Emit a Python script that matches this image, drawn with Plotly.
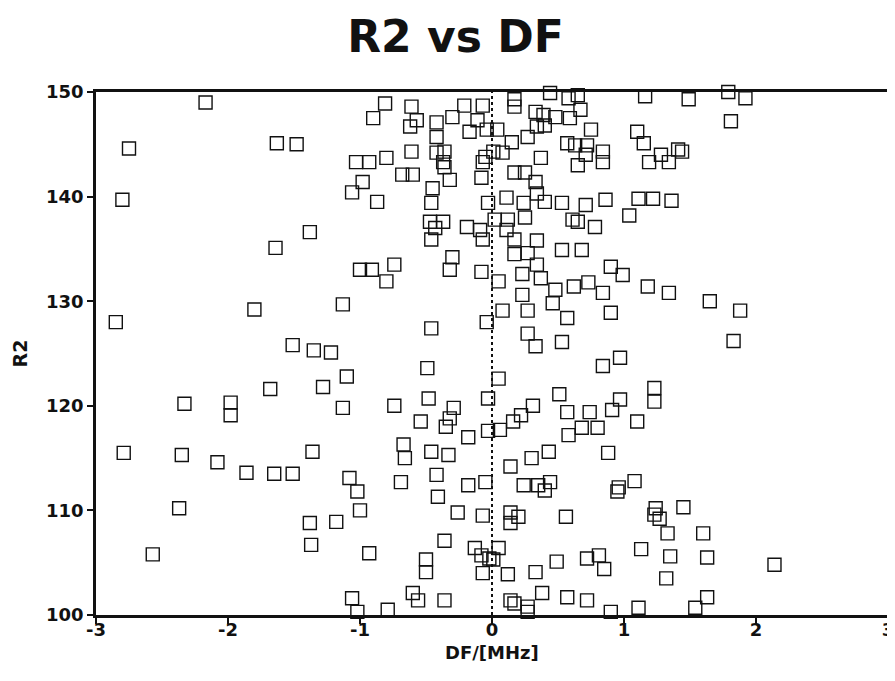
import plotly.graph_objects as go

# DF / [MHz] values
df_mhz = [
    -2.17, -2.75, -2.80, -1.63, -1.48, -1.03, -1.06, -0.98,
    -0.81, -0.90, -0.61, -0.57, -0.62, -0.42, -0.30, -0.21, -0.07, -0.11, -0.17, -0.04, 0.04, -0.42,
    0.17, 0.17, 0.44, 0.58, 0.65, 0.33, 0.39, 0.48, 0.59, 0.67, 0.34, 0.40, 0.27, 0.15, 0.75,
    0.57, 0.63, 0.72, 0.84, 0.71, 0.84, 0.65, 0.37, 0.08, 0.01, -0.05, -0.07, -0.61, -0.42, -0.36,
    -0.37, -0.36, -0.80, -0.93, -0.68, -0.60, -0.32, -0.45, -0.46, -0.87, -0.08, 0.17, 0.25, 0.33,
    0.34, 0.11, 0.24, 0.40, 0.53, 0.71, 0.86, -0.03,
    -0.47, -0.37, -0.43, -0.19, -0.09, 0.02, 0.12, 0.25, 0.11, 0.61, 0.65, 0.78, -0.46, -0.07,
    0.17, 0.34, 0.17, 0.27, 0.53, 0.68, -0.30, -0.32, -0.74, -1.00, -0.91, -0.80, -0.08, 0.05,
    0.34, 0.23, 0.37, 0.48, 0.62, 0.73, 0.84, 0.90, 0.99, 0.23, 0.46, 0.08, 0.27, -0.04, -0.46,
    0.27, 0.33, 0.57, 0.53, 0.90, 0.97,
    1.04, 1.18, 1.34, 1.65, 1.88, 1.83,
    1.16, 1.49, 1.79, 1.92, 1.81, 1.10, 1.15, 1.28, 1.41, 1.44, 1.19, 1.34, 1.11, 1.22, 1.36,
    -1.38, -1.64, -1.13, -1.80, -2.85, -1.51, -1.35, -1.22,
    -1.10, -1.68, -1.28, -2.33, -1.98, -1.98, -1.13, -2.79, -2.35, -2.08, -1.86, -1.65, -1.51,
    -1.36, -1.08,
    0.84, -0.49, 0.05, 0.51, -0.48, -0.03, -0.74, -0.29, -0.32, -0.35, -0.54, -0.18, -0.03, 0.06,
    0.16, 0.22, 0.31, 0.57, 0.74, 0.91, 0.97, 0.68, 0.80, 0.58, -0.67, -0.66, -0.46, -0.33, 0.43,
    0.30, 0.14, 0.88, -0.42, -0.69, -0.18, -0.05, 0.24, 0.35, 0.44, 0.96,
    1.23, 1.23, 1.10, 1.08,
    -2.37, -2.57, -1.38, -1.18, -1.37, -1.00, -1.02, -1.06, -1.02,
    -0.41, 0.40, 0.95, -0.26, -0.07, 0.14, 0.20, 0.14, 0.56, -0.36, -0.93, -0.13, -0.08, -0.02,
    0.05, 0.01, -0.50, -0.50, -0.07, 0.12, 0.33, 0.49, 0.72, 0.81, 0.85, -0.60, -0.56, -0.36,
    -0.79, 0.14, 0.17, 0.27, 0.27, 0.38, 0.57, 0.72, 0.90,
    1.24, 1.23, 1.27, 1.45, 1.33, 1.60, 1.13, 1.35, 1.63, 2.14, 1.32, 1.63, 1.11, 1.54,
]

# R2 values
r2 = [
    149.0, 144.6, 139.7, 145.1, 145.0, 143.3, 140.4, 141.4,
    148.9, 147.5, 148.6, 147.3, 146.7, 147.1, 147.6, 148.7, 148.7, 147.3, 146.2, 146.4, 146.4, 145.7,
    149.3, 148.6, 149.9, 149.4, 149.7, 148.1, 147.8, 147.6, 147.5, 148.3, 146.7, 146.8, 145.7, 145.2, 146.4,
    145.1, 144.9, 144.9, 144.3, 144.0, 143.3, 143.0, 143.7, 144.2, 144.3, 143.8, 143.3, 144.3, 144.2, 144.3,
    143.3, 142.8, 143.7, 143.3, 142.1, 142.1, 141.6, 140.8, 139.4, 139.5, 141.8, 142.3, 142.3, 141.4,
    140.3, 139.9, 139.4, 139.5, 139.4, 139.2, 139.7, 139.4,
    137.6, 137.6, 137.0, 137.1, 136.8, 137.8, 137.8, 138.0, 136.8, 137.8, 137.6, 137.1, 135.9, 135.9,
    135.9, 135.8, 134.5, 134.6, 134.9, 134.9, 134.2, 133.0, 133.5, 133.0, 133.0, 131.9, 132.8, 131.9,
    133.5, 132.6, 132.2, 131.1, 131.4, 131.8, 130.8, 133.3, 132.5, 130.6, 129.8, 129.1, 129.1, 128.0, 127.4,
    126.9, 125.7, 128.4, 126.1, 128.9, 124.6,
    138.2, 131.4, 130.8, 130.0, 129.1, 126.2,
    149.6, 149.3, 150.0, 149.4, 147.2, 146.2, 145.1, 144.0, 144.5, 144.3, 143.3, 143.3, 139.8, 139.8, 139.6,
    136.6, 135.1, 129.7, 129.2, 128.0, 125.8, 125.3, 125.1,
    122.8, 121.6, 121.8, 120.2, 120.3, 119.1, 119.8, 115.5, 115.3, 114.6, 113.6, 113.5, 113.5,
    115.6, 113.1,
    123.8, 123.6, 122.6, 121.1, 120.7, 120.7, 120.0, 119.8, 118.8, 118.0, 118.5, 117.0, 117.6, 117.7,
    118.5, 119.1, 120.0, 119.4, 119.4, 119.6, 120.6, 117.9, 117.9, 117.2, 116.3, 115.0, 115.6, 115.3, 115.6,
    115.0, 114.2, 115.5, 113.4, 112.7, 112.4, 112.7, 112.4, 112.4, 112.7, 112.2,
    121.7, 120.4, 118.5, 112.8,
    110.2, 105.8, 108.8, 108.9, 106.7, 110.0, 111.8, 101.6, 100.3,
    111.3, 111.9, 111.8, 109.8, 109.5, 109.8, 109.4, 108.8, 109.4, 107.1, 105.9, 106.4, 105.7, 105.4,
    106.4, 105.3, 105.3, 104.1, 104.0, 103.9, 104.1, 105.1, 105.4, 105.7, 104.4, 102.1, 101.4, 101.4,
    100.5, 101.4, 101.1, 100.8, 100.3, 102.1, 101.7, 101.4, 100.3,
    110.2, 109.6, 109.2, 110.3, 107.8, 107.8, 106.3, 105.6, 105.5, 104.8, 103.5, 101.7, 100.7, 100.7,
]

x_ticks = [-3, -2, -1, 0, 1, 2, 3]
y_ticks = [100, 110, 120, 130, 140, 150]

FONT = "DejaVu Sans, Liberation Sans, Arial, sans-serif"

fig = go.Figure()
fig.add_trace(go.Scatter(
    x=df_mhz, y=r2, mode="markers",
    marker=dict(symbol="square-open", size=13, color="#111111",
                line=dict(width=1.4, color="#111111")),
    showlegend=False, cliponaxis=False,
))

fig.add_shape(type="line", x0=0, x1=0, y0=100, y1=150, xref="x", yref="y",
              line=dict(color="#111111", width=2, dash="dot"), layer="below")

axis_common = dict(
    showgrid=False, zeroline=False, showline=True, linewidth=2.5, linecolor="#111111",
    mirror=True, ticks="outside", tickwidth=2, tickcolor="#111111",
    tickfont=dict(family=FONT, size=18, color="#111111", weight="bold"),
)

fig.update_xaxes(range=[-3, 3], tickvals=x_ticks, ticktext=[str(v) for v in x_ticks],
                 ticklen=6, ticklabelstandoff=-9, **axis_common)
fig.update_yaxes(range=[100, 150], tickvals=y_ticks, ticktext=[str(v) for v in y_ticks],
                 ticklen=6,
                 title=dict(text="R2", font=dict(family=FONT, size=19, color="#111111", weight="bold"),
                            standoff=14),
                 **axis_common)

fig.add_annotation(text="DF/[MHz]", xref="paper", yref="paper", x=0.5, y=-0.071,
                   xanchor="center", yanchor="middle", showarrow=False,
                   font=dict(family=FONT, size=18, color="#111111", weight="bold"))

fig.update_layout(
    width=895, height=681,
    margin=dict(l=88, r=15, t=84, b=74, autoexpand=False),
    paper_bgcolor="white", plot_bgcolor="white",
    title=dict(text="R2 vs DF", x=0.5, xref="container", xanchor="center",
               y=0.958, yref="container", yanchor="middle",
               font=dict(family=FONT, size=44, color="#111111", weight="bold")),
)

fig.write_html("out.html")
